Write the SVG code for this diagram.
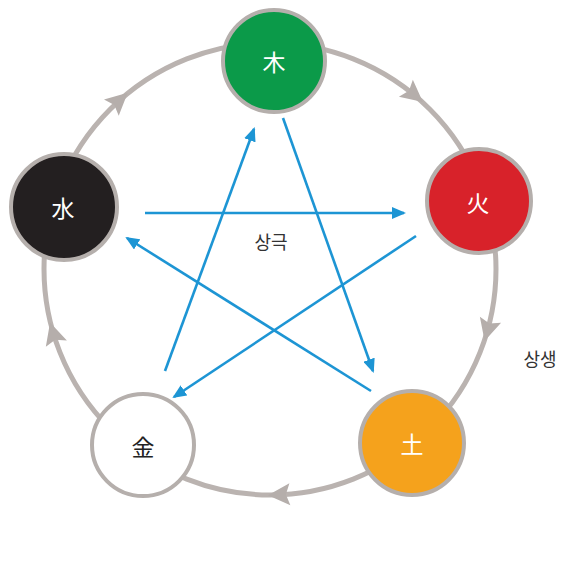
<svg xmlns="http://www.w3.org/2000/svg" width="564" height="564" viewBox="0 0 564 564">
<style>
.ring{fill:none;stroke:#bab3b0;stroke-width:5}
.ah{fill:#b5aeab}
.node{stroke:#b5afac;stroke-width:4}
.blue{stroke:#1d95d4;stroke-width:2.6;fill:none;marker-end:url(#bh)}
.ch{font-family:"Noto Sans CJK KR","Noto Sans CJK SC",sans-serif;font-size:23px;text-anchor:middle;dominant-baseline:central}
.lbl{font-family:"Noto Sans CJK KR","Noto Sans",sans-serif;font-size:18px;fill:#333;text-anchor:middle}
</style>
<defs>
<marker id="bh" viewBox="0 0 14 12" refX="12" refY="6" markerWidth="14" markerHeight="12" markerUnits="userSpaceOnUse" orient="auto">
<path d="M0,0 L14,6 L0,12 Z" fill="#1d95d4"/>
</marker>
</defs>
<rect width="564" height="564" fill="#fff"/>
<g id="connectors">
<circle class="ring" cx="270" cy="269" r="226"/>
<path class="ah" d="M12,0 L-10,-11 L-6,0 L-10,11 Z" transform="translate(413.6,94.5) rotate(39.4)"/>
<path class="ah" d="M12,0 L-10,-11 L-6,0 L-10,11 Z" transform="translate(487.8,329.4) rotate(105.5)"/>
<path class="ah" d="M12,0 L-10,-11 L-6,0 L-10,11 Z" transform="translate(279.9,494.8) rotate(177.5)"/>
<path class="ah" d="M12,0 L-10,-11 L-6,0 L-10,11 Z" transform="translate(53.5,334) rotate(253.3)"/>
<path class="ah" d="M12,0 L-10,-11 L-6,0 L-10,11 Z" transform="translate(118.8,100.9) rotate(-42)"/>
<line class="blue" x1="283" y1="118" x2="373" y2="371"/>
<line class="blue" x1="371" y1="391" x2="127" y2="238"/>
<line class="blue" x1="145" y1="213" x2="404" y2="213"/>
<line class="blue" x1="416" y1="236" x2="174" y2="397"/>
<line class="blue" x1="165" y1="371" x2="254" y2="129"/>
<text class="lbl" x="271" y="249">상극</text>
<text class="lbl" x="540" y="366">상생</text>
</g>
<g id="wood">
<circle class="node" cx="274" cy="61" r="51" fill="#0b9a49"/>
<text class="ch" x="274" y="61" fill="#fff">木</text>
</g>
<g id="fire">
<circle class="node" cx="479" cy="201" r="52" fill="#d8222a"/>
<text class="ch" x="478" y="202" fill="#fff">火</text>
</g>
<g id="earth">
<circle class="node" cx="412" cy="443" r="52" fill="#f5a21c"/>
<text class="ch" x="412" y="443" fill="#fff">土</text>
</g>
<g id="metal">
<circle class="node" cx="143" cy="445" r="51" fill="#fff"/>
<text class="ch" x="143" y="446" fill="#222">金</text>
</g>
<g id="water">
<circle class="node" cx="64" cy="207" r="53" fill="#231f20"/>
<text class="ch" x="63" y="207" fill="#fff">水</text>
</g>
</svg>
